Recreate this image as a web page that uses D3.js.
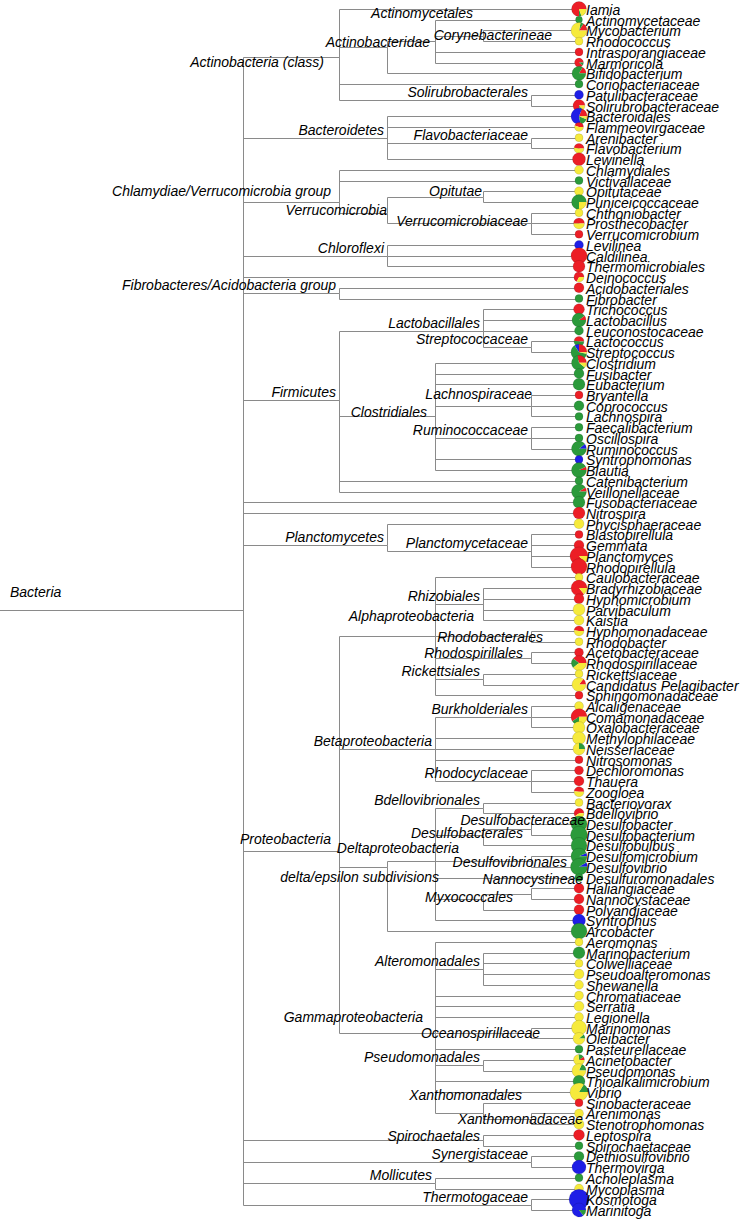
<!DOCTYPE html>
<html><head><meta charset="utf-8">
<script src="https://cdn.jsdelivr.net/npm/d3@7"></script>
<style>body{margin:0;background:#fff}svg{display:block}</style>
</head><body>
<svg id="c" width="742" height="1222"></svg>
<script>
// ---------------- DATA ----------------
const leafNames = [
"Iamia","Actinomycetaceae","Mycobacterium","Rhodococcus","Intrasporangiaceae","Marmoricola","Bifidobacterium","Coriobacteriaceae","Patulibacteraceae","Solirubrobacteraceae",
"Bacteroidales","Flammeovirgaceae","Arenibacter","Flavobacterium","Lewinella","Chlamydiales","Victivallaceae","Opitutaceae","Puniceicoccaceae","Chthoniobacter",
"Prosthecobacter","Verrucomicrobium","Levilinea","Caldilinea","Thermomicrobiales","Deinococcus","Acidobacteriales","Fibrobacter","Trichococcus","Lactobacillus",
"Leuconostocaceae","Lactococcus","Streptococcus","Clostridium","Fusibacter","Eubacterium","Bryantella","Coprococcus","Lachnospira","Faecalibacterium",
"Oscillospira","Ruminococcus","Syntrophomonas","Blautia","Catenibacterium","Veillonellaceae","Fusobacteriaceae","Nitrospira","Phycisphaeraceae","Blastopirellula",
"Gemmata","Planctomyces","Rhodopirellula","Caulobacteraceae","Bradyrhizobiaceae","Hyphomicrobium","Parvibaculum","Kaistia","Hyphomonadaceae","Rhodobacter",
"Acetobacteraceae","Rhodospirillaceae","Rickettsiaceae","Candidatus Pelagibacter","Sphingomonadaceae","Alcaligenaceae","Comamonadaceae","Oxalobacteraceae","Methylophilaceae","Neisseriaceae",
"Nitrosomonas","Dechloromonas","Thauera","Zoogloea","Bacteriovorax","Bdellovibrio","Desulfobacter","Desulfobacterium","Desulfobulbus","Desulfomicrobium",
"Desulfovibrio","Desulfuromonadales","Haliangiaceae","Nannocystaceae","Polyangiaceae","Syntrophus","Arcobacter","Aeromonas","Marinobacterium","Colwelliaceae",
"Pseudoalteromonas","Shewanella","Chromatiaceae","Serratia","Legionella","Marinomonas","Oleibacter","Pasteurellaceae","Acinetobacter","Pseudomonas",
"Thioalkalimicrobium","Vibrio","Sinobacteraceae","Arenimonas","Stenotrophomonas","Leptospira","Spirochaetaceae","Dethiosulfovibrio","Thermovirga","Acholeplasma",
"Mycoplasma","Kosmotoga","Marinitoga"];

const leafParents = [
"Actinobacteria (class)","Actinomycetales","Corynebacterineae","Corynebacterineae","Actinomycetales","Actinomycetales","Actinobacteridae","Actinobacteria (class)","Solirubrobacterales","Solirubrobacterales",
"Bacteroidetes","Bacteroidetes","Flavobacteriaceae","Flavobacteriaceae","Bacteroidetes","Chlamydiae/Verrucomicrobia group","Chlamydiae/Verrucomicrobia group","Opitutae","Opitutae","Verrucomicrobiaceae",
"Verrucomicrobiaceae","Verrucomicrobiaceae","Chloroflexi","Chloroflexi","Chloroflexi","Bacteria","Fibrobacteres/Acidobacteria group","Fibrobacteres/Acidobacteria group","Lactobacillales","Lactobacillales",
"Lactobacillales","Streptococcaceae","Streptococcaceae","Clostridiales","Clostridiales","Clostridiales","Lachnospiraceae","Lachnospiraceae","Lachnospiraceae","Ruminococcaceae",
"Ruminococcaceae","Ruminococcaceae","Clostridiales","Clostridiales","Firmicutes","Firmicutes","Bacteria","Bacteria","Planctomycetes","Planctomycetaceae",
"Planctomycetaceae","Planctomycetaceae","Planctomycetaceae","Alphaproteobacteria","Rhizobiales","Rhizobiales","Rhizobiales","Rhizobiales","Rhodobacterales","Rhodobacterales",
"Rhodospirillales","Rhodospirillales","Rickettsiales","Rickettsiales","Alphaproteobacteria","Burkholderiales","Burkholderiales","Burkholderiales","Betaproteobacteria","Betaproteobacteria",
"Betaproteobacteria","Rhodocyclaceae","Rhodocyclaceae","Rhodocyclaceae","Bdellovibrionales","Bdellovibrionales","Desulfobacteraceae","Desulfobacteraceae","Desulfobacterales","Desulfovibrionales",
"Desulfovibrionales","Deltaproteobacteria","Nannocystineae","Nannocystineae","Myxococcales","Deltaproteobacteria","delta/epsilon subdivisions","Gammaproteobacteria","Alteromonadales","Alteromonadales",
"Alteromonadales","Alteromonadales","Gammaproteobacteria","Gammaproteobacteria","Gammaproteobacteria","Oceanospirillaceae","Oceanospirillaceae","Gammaproteobacteria","Pseudomonadales","Pseudomonadales",
"Gammaproteobacteria","Gammaproteobacteria","Xanthomonadales","Xanthomonadaceae","Xanthomonadaceae","Spirochaetales","Spirochaetales","Synergistaceae","Synergistaceae","Mollicutes",
"Mollicutes","Thermotogaceae","Thermotogaceae"];

const nodeNames = ["Bacteria","Actinobacteria (class)","Actinobacteridae","Actinomycetales","Corynebacterineae","Solirubrobacterales",
"Bacteroidetes","Flavobacteriaceae","Chlamydiae/Verrucomicrobia group","Verrucomicrobia","Opitutae","Verrucomicrobiaceae","Chloroflexi",
"Fibrobacteres/Acidobacteria group","Firmicutes","Lactobacillales","Streptococcaceae","Clostridiales","Lachnospiraceae","Ruminococcaceae",
"Planctomycetes","Planctomycetaceae","Proteobacteria","Alphaproteobacteria","Rhizobiales","Rhodobacterales","Rhodospirillales","Rickettsiales",
"Betaproteobacteria","Burkholderiales","Rhodocyclaceae","delta/epsilon subdivisions","Deltaproteobacteria","Bdellovibrionales","Desulfobacterales",
"Desulfobacteraceae","Desulfovibrionales","Myxococcales","Nannocystineae","Gammaproteobacteria","Alteromonadales","Oceanospirillaceae",
"Pseudomonadales","Xanthomonadales","Xanthomonadaceae","Spirochaetales","Synergistaceae","Mollicutes","Thermotogaceae"];

const nodeParents = ["","Bacteria","Actinobacteria (class)","Actinobacteridae","Actinomycetales","Actinobacteria (class)",
"Bacteria","Bacteroidetes","Bacteria","Chlamydiae/Verrucomicrobia group","Verrucomicrobia","Verrucomicrobia","Bacteria",
"Bacteria","Bacteria","Firmicutes","Lactobacillales","Firmicutes","Clostridiales","Clostridiales",
"Bacteria","Planctomycetes","Bacteria","Proteobacteria","Alphaproteobacteria","Alphaproteobacteria","Alphaproteobacteria","Alphaproteobacteria",
"Proteobacteria","Betaproteobacteria","Betaproteobacteria","Proteobacteria","delta/epsilon subdivisions","Deltaproteobacteria","Deltaproteobacteria",
"Desulfobacterales","Deltaproteobacteria","Deltaproteobacteria","Myxococcales","Proteobacteria","Gammaproteobacteria","Gammaproteobacteria",
"Gammaproteobacteria","Gammaproteobacteria","Xanthomonadales","Bacteria","Bacteria","Bacteria","Bacteria"];

// depth level of each internal node (leaves sit at level 7)
const nodeLevels = [0,2,3,4,5,6, 3,6,2,3,5,6,3, 2,2,5,6,4,6,6, 3,6,2,4,5,6,6,5, 4,6,6,3,4,5,5, 6,6,5,6,4,5,6, 5,5,6,5,6,4,6];

// read counts per sample for each leaf (pie slices)
const sampleNames = ["red sample","blue sample","green sample","yellow sample"];
const redCounts = [42,0,10,0,16,18,8,0,0,28, 12,9,0,12,42,0,0,0,0,0, 15,16,0,64,36,17,25,0,30,5, 0,12,16,16,0,0,16,0,0,0,
 0,0,0,4,0,5,0,36,0,16, 25,70,64,0,55,25,0,0,12,0, 20,22,0,7,16,0,38,0,0,0, 16,20,25,12,0,15,0,0,0,0,
 0,0,25,25,25,0,0,0,0,0, 0,0,0,0,0,0,0,0,3,0, 0,0,16,0,0,30,0,0,0,0, 0,0,0];
const yellowCounts = [11,0,50,16,0,0,0,0,0,5, 4,11,16,13,0,20,0,20,14,16, 15,0,0,0,0,8,0,0,0,0, 0,0,2,6,0,0,0,0,0,0,
 0,0,0,0,0,0,0,0,25,0, 0,11,0,16,9,0,36,25,13,16, 0,22,16,42,0,20,16,36,42,27, 0,0,0,13,16,10,0,0,0,0,
 0,0,0,0,0,0,0,16,0,16, 25,20,20,25,20,56,32,0,22,40, 0,68,0,20,25,0,0,0,0,0, 20,0,0];
const greenCounts = [3,12,4,0,0,2,41,16,0,3, 10,0,0,0,0,0,16,0,42,0, 0,0,0,0,0,0,0,16,0,44, 20,13,40,34,25,36,0,25,16,16,
 16,50,0,52,16,51,36,0,0,0, 0,0,0,0,0,0,0,0,0,0, 0,12,0,0,0,0,10,0,0,9, 0,0,0,0,0,0,64,72,64,60,
 66,16,0,0,0,0,64,0,36,0, 0,0,0,0,0,0,4,16,5,9, 36,13,0,0,0,0,16,25,0,16, 0,0,7];
const blueCounts = [0,0,0,0,0,0,0,0,20,0, 38,0,0,0,0,0,0,0,0,0, 0,0,20,0,0,0,0,0,0,0, 0,0,6,0,0,0,0,0,0,0,
 0,6,16,0,0,0,0,0,0,0, 0,0,0,0,0,0,0,0,0,0, 0,0,0,0,0,0,0,0,0,0, 0,0,0,0,0,0,0,0,0,4,
 6,0,0,0,0,42,0,0,0,0, 0,0,0,0,0,0,0,0,0,0, 0,0,0,0,0,0,0,0,49,0, 0,100,42];

// ---------------- LAYOUT / STYLE ----------------
const sampleColors = ["#ec1e26","#1e1ee6","#2b9a3b","#f6ea3c"];
const labelNudge = {
 "Actinomycetales":[41,-20.5],"Actinobacteridae":[46,3],"Corynebacterineae":[72,7],"Actinobacteria (class)":[-12,12.5],
 "Chlamydiae/Verrucomicrobia group":[-5,-3],"Opitutae":[2,2.4],"Verrucomicrobia":[3,5.3],"Verrucomicrobiaceae":[0,5.6],
 "Lachnospiraceae":[4,-4],"Clostridiales":[-5,4],"Alphaproteobacteria":[42,-12.6],"Rhodobacterales":[15,8.4],
 "Rhodospirillales":[-5,3.6],"Desulfobacteraceae":[57,-1.5],"Desulfobacterales":[43,6.8],"Deltaproteobacteria":[27,-5.4],
 "Desulfovibrionales":[39,8.8],"delta/epsilon subdivisions":[55,18],"Nannocystineae":[55,-6.4],"Myxococcales":[33,5.7],
 "Gammaproteobacteria":[-9,-8],"Oceanospirillaceae":[12,8.4],"Xanthomonadales":[42,-10.6],"Xanthomonadaceae":[55,8],
 "Spirochaetales":[0,4],"Proteobacteria":[-5,-4]
};

const svg = d3.select("#c");
const font = "'Liberation Sans', Arial, sans-serif";

const rows = nodeNames.map((n,i)=>({id:n,parent:nodeParents[i],level:nodeLevels[i]}))
  .concat(leafNames.map((n,i)=>({id:n,parent:leafParents[i],leaf:i})));
const root = d3.stratify().id(d=>d.id).parentId(d=>d.parent||null)(rows);
root.eachAfter(n=>{ n.minLeaf = n.children ? d3.min(n.children,c=>c.minLeaf) : n.data.leaf; });
root.sort((a,b)=>a.minLeaf-b.minLeaf);

const yScale = d3.scaleLinear().domain([0,leafNames.length-1]).range([9,1210]);
const xScale = d3.scaleLinear().domain([0,7]).range([243,579]);
root.eachAfter(n=>{
  if(n.children){ n.py = d3.mean(n.leaves(),l=>yScale(l.data.leaf)); n.px = xScale(n.data.level); }
  else { n.py = yScale(n.data.leaf); n.px = xScale(7); }
});
const snap = v=>Math.round(v)+0.5;

const gEdges = svg.append("g").attr("fill","none").attr("stroke","#8a8a8a").attr("stroke-width",1);
gEdges.append("path").attr("d",`M0,${snap(root.py)}H${snap(root.px)}`);
gEdges.selectAll("path.e").data(root.descendants().filter(n=>n.parent)).join("path").attr("class","e")
  .attr("d",n=>`M${snap(n.parent.px)},${snap(n.parent.py)}V${snap(n.py)}H${snap(n.px)}`);

// pies
const rScale = d3.scaleSqrt().domain([0,100]).range([0,10]);
const arc = d3.arc().innerRadius(0);
const leaves = root.leaves();
const gPies = svg.append("g");
leaves.forEach(l=>{
  const i = l.data.leaf;
  const vals = [redCounts[i],blueCounts[i],greenCounts[i],yellowCounts[i]];
  const tot = d3.sum(vals);
  const r = rScale(tot);
  let cum = 0;
  const g = gPies.append("g").attr("transform",`translate(${l.px},${l.py})`);
  vals.forEach((v,k)=>{
    if(v<=0) return;
    const t0 = cum/tot*2*Math.PI, t1 = (cum+v)/tot*2*Math.PI; cum += v;
    g.append("path").attr("d",arc({outerRadius:r,startAngle:Math.PI/2-t1,endAngle:Math.PI/2-t0}))
      .attr("fill",sampleColors[k]);
  });
  g.append("circle").attr("r",r).attr("fill","none").attr("stroke","rgba(0,0,0,0.2)").attr("stroke-width",0.6);
});

// leaf labels
svg.append("g").selectAll("text").data(leaves).join("text")
  .attr("x",l=>l.px+7).attr("y",l=>l.py+6)
  .attr("font-family",font).attr("font-style","italic").attr("font-size",14).attr("fill","#000")
  .text(l=>l.data.id);

// internal node labels
const internals = root.descendants().filter(n=>n.children && n.parent);
svg.append("g").selectAll("text").data(internals).join("text")
  .attr("x",n=>n.px-3+(labelNudge[n.data.id]||[0,0])[0])
  .attr("y",n=>n.py-3+(labelNudge[n.data.id]||[0,0])[1])
  .attr("text-anchor","end")
  .attr("font-family",font).attr("font-style","italic").attr("font-size",14).attr("fill","#000")
  .text(n=>n.data.id);
svg.append("text").attr("x",10).attr("y",root.py-13)
  .attr("font-family",font).attr("font-style","italic").attr("font-size",14).attr("fill","#000")
  .text(root.data.id);
</script>
</body></html>
